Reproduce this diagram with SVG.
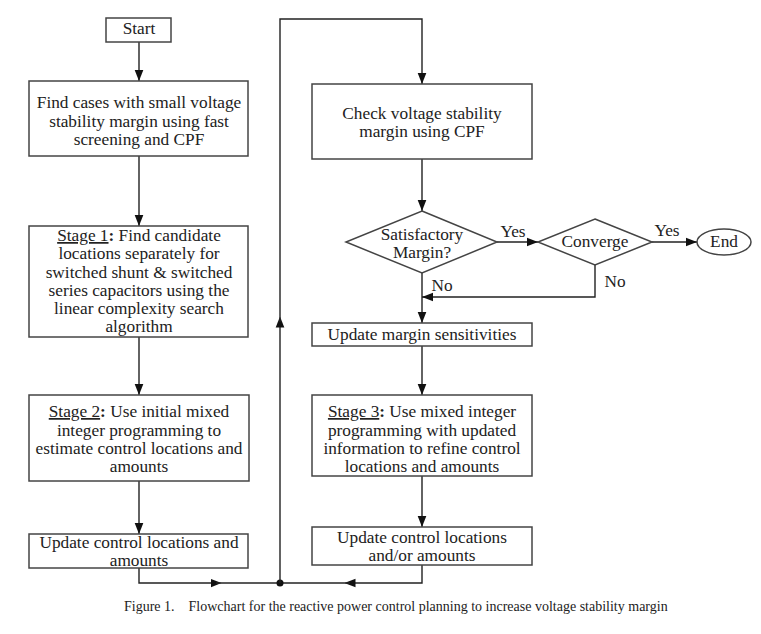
<svg xmlns="http://www.w3.org/2000/svg" width="761" height="634" viewBox="0 0 761 634">
  <defs>
    <marker id="arrow" markerWidth="11" markerHeight="14" refX="14" refY="5.5" viewBox="0 0 14 11" orient="auto" markerUnits="userSpaceOnUse">
      <path d="M0,0 L14,5.5 L0,11 Z" fill="#111"/>
    </marker>
    <marker id="arrowMid" markerWidth="11" markerHeight="14" refX="7" refY="5.5" viewBox="0 0 14 11" orient="auto" markerUnits="userSpaceOnUse">
      <path d="M0,0 L14,5.5 L0,11 Z" fill="#111"/>
    </marker>
  </defs>
  <style>
    .box { fill: #fff; stroke: #444; stroke-width: 1.5; }
    .edge { fill: none; stroke: #222; stroke-width: 1.4; }
    text { font-family: "Liberation Serif", "Times New Roman", serif; font-size: 17.3px; fill: #222; text-anchor: middle; }
    .cap { font-size: 14px; text-anchor: start; }
    .u { text-decoration: underline; }
    .b { font-weight: bold; }
  </style>
  <rect width="761" height="634" fill="#fff"/>

  <g id="connectors">
    <line class="edge" x1="139" y1="42" x2="139" y2="81" marker-end="url(#arrow)"/>
    <line class="edge" x1="139" y1="156" x2="139" y2="226" marker-end="url(#arrow)"/>
    <line class="edge" x1="139" y1="337" x2="139" y2="395" marker-end="url(#arrow)"/>
    <line class="edge" x1="139" y1="481" x2="139" y2="534" marker-end="url(#arrow)"/>
    <!-- left bottom return into junction -->
    <polyline class="edge" points="139,568 139,583 216,583" marker-end="url(#arrowMid)"/>
    <line class="edge" x1="216" y1="583" x2="280" y2="583"/>
    <!-- right bottom return into junction -->
    <polyline class="edge" points="422,565 422,583 350,583" marker-end="url(#arrowMid)"/>
    <line class="edge" x1="350" y1="583" x2="280" y2="583"/>
    <circle cx="280" cy="583" r="3.5" fill="#111"/>
    <!-- loop back up to check -->
    <line class="edge" x1="280" y1="583" x2="280" y2="322" marker-end="url(#arrowMid)"/>
    <polyline class="edge" points="280,322 280,19 422,19 422,84" marker-end="url(#arrow)"/>
    <line class="edge" x1="422" y1="159" x2="422" y2="211" marker-end="url(#arrow)"/>
    <line class="edge" x1="497" y1="242" x2="538" y2="242" marker-end="url(#arrow)"/>
    <line class="edge" x1="652" y1="242" x2="697" y2="242" marker-end="url(#arrow)"/>
    <polyline class="edge" points="595,265 595,297 422,297" marker-end="url(#arrow)"/>
    <line class="edge" x1="422" y1="273" x2="422" y2="323" marker-end="url(#arrow)"/>
    <line class="edge" x1="422" y1="346" x2="422" y2="395" marker-end="url(#arrow)"/>
    <line class="edge" x1="422" y1="476" x2="422" y2="527" marker-end="url(#arrow)"/>
    <text x="513" y="237">Yes</text>
    <text x="667" y="236">Yes</text>
    <text x="442" y="291">No</text>
    <text x="615" y="287">No</text>
  </g>

  <g id="start">
    <rect class="box" x="106" y="18" width="65" height="24"/>
    <text x="139" y="34">Start</text>
  </g>

  <g id="find-cases">
    <rect class="box" x="29" y="81" width="219" height="75"/>
    <text x="139" y="108">Find cases with small voltage</text>
    <text x="139" y="127">stability margin using fast</text>
    <text x="139" y="145">screening and CPF</text>
  </g>

  <g id="stage1">
    <rect class="box" x="29" y="226" width="219" height="111"/>
    <text x="139" y="241"><tspan class="u">Stage 1</tspan><tspan class="b">:</tspan> Find candidate</text>
    <text x="139" y="259">locations separately for</text>
    <text x="139" y="278">switched shunt &amp; switched</text>
    <text x="139" y="296">series capacitors using the</text>
    <text x="139" y="314">linear complexity search</text>
    <text x="139" y="332">algorithm</text>
  </g>

  <g id="stage2">
    <rect class="box" x="29" y="395" width="220" height="86"/>
    <text x="139" y="417"><tspan class="u">Stage 2</tspan><tspan class="b">:</tspan> Use initial mixed</text>
    <text x="139" y="436">integer programming to</text>
    <text x="139" y="454">estimate control locations and</text>
    <text x="139" y="472">amounts</text>
  </g>

  <g id="update-left">
    <rect class="box" x="29" y="534" width="219" height="34"/>
    <text x="139" y="548">Update control locations and</text>
    <text x="139" y="566">amounts</text>
  </g>

  <g id="check">
    <rect class="box" x="312" y="84" width="220" height="75"/>
    <text x="422" y="119">Check voltage stability</text>
    <text x="422" y="137">margin using CPF</text>
  </g>

  <g id="satisfactory">
    <polygon class="box" points="422,211 497,242 422,273 346,242"/>
    <text x="422" y="240">Satisfactory</text>
    <text x="422" y="258">Margin?</text>
  </g>

  <g id="converge">
    <polygon class="box" points="595,219 652,242 595,265 538,242"/>
    <text x="595" y="247">Converge</text>
  </g>

  <g id="end">
    <ellipse class="box" cx="724" cy="242" rx="27" ry="13"/>
    <text x="724" y="247">End</text>
  </g>

  <g id="update-sensitivities">
    <rect class="box" x="312" y="323" width="220" height="23"/>
    <text x="422" y="340">Update margin sensitivities</text>
  </g>

  <g id="stage3">
    <rect class="box" x="312" y="395" width="220" height="81"/>
    <text x="422" y="417"><tspan class="u">Stage 3</tspan><tspan class="b">:</tspan> Use mixed integer</text>
    <text x="422" y="436">programming with updated</text>
    <text x="422" y="454">information to refine control</text>
    <text x="422" y="472">locations and amounts</text>
  </g>

  <g id="update-right">
    <rect class="box" x="312" y="527" width="220" height="38"/>
    <text x="422" y="543">Update control locations</text>
    <text x="422" y="561">and/or amounts</text>
  </g>

  <text class="cap" x="124" y="611" xml:space="preserve">Figure 1.    Flowchart for the reactive power control planning to increase voltage stability margin</text>
</svg>
